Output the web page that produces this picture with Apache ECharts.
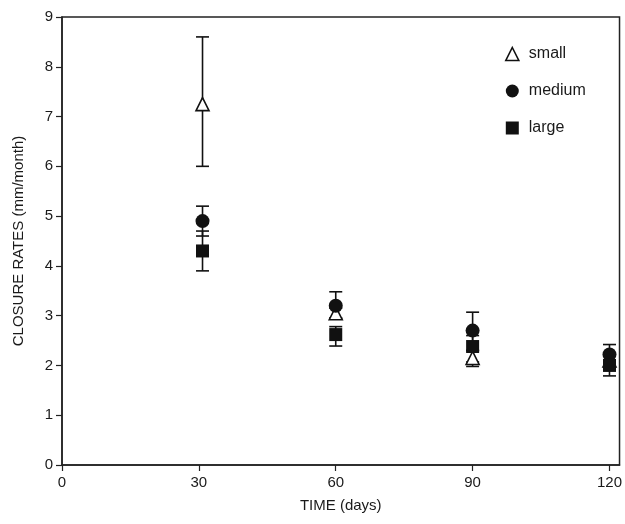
<!DOCTYPE html>
<html><head><meta charset="utf-8">
<script src="https://cdn.jsdelivr.net/npm/echarts@6/dist/echarts.min.js"></script>
<style>html,body{margin:0;padding:0;background:#fff}#c{width:625px;height:524px}</style>
</head><body><div id="c"></div>
<script>
const days = [30.8, 60, 90, 120];
const xTicks = [0, 30, 60, 90, 120];
const smallMean = [7.25, 3.05, 2.15, 2.1];
const smallLow  = [6.0, 2.95, 1.98, 2.0];
const smallHigh = [8.6, 3.15, 2.3, 2.2];
const mediumMean = [4.9, 3.2, 2.7, 2.22];
const mediumLow  = [4.6, 2.95, 2.3, 2.05];
const mediumHigh = [5.2, 3.48, 3.07, 2.42];
const largeMean = [4.3, 2.62, 2.38, 2.0];
const largeLow  = [3.9, 2.39, 2.07, 1.79];
const largeHigh = [4.7, 2.78, 2.6, 2.2];

function errData(mean, low, high){ return days.map((d,i)=>[d, low[i], high[i]]); }
function ptData(mean){ return days.map((d,i)=>[d, mean[i]]); }

function errSeries(mean, low, high){
  return {
    type: 'custom', silent: true, z: 1,
    data: errData(mean, low, high),
    renderItem: function(params, api){
      const x = api.value(0);
      const lo = api.coord([x, api.value(1)]);
      const hi = api.coord([x, api.value(2)]);
      const w = 6.5;
      const st = {stroke:'#111', lineWidth:1.6};
      return {type:'group', children:[
        {type:'line', shape:{x1:lo[0],y1:lo[1],x2:hi[0],y2:hi[1]}, style:st},
        {type:'line', shape:{x1:lo[0]-w,y1:lo[1],x2:lo[0]+w,y2:lo[1]}, style:st},
        {type:'line', shape:{x1:hi[0]-w,y1:hi[1],x2:hi[0]+w,y2:hi[1]}, style:st}
      ]};
    }
  };
}

const font = 'Liberation Sans, Arial, Helvetica, sans-serif';
const chart = echarts.init(document.getElementById('c'), null, {renderer:'canvas'});
chart.setOption({
  animation: false,
  backgroundColor: '#fff',
  grid: {left: 62, right: 3, top: 17, bottom: 59, show: true, borderColor: '#222', borderWidth: 1.5},
  legend: {
    orient: 'vertical', left: 500, top: 41, itemWidth: 13, itemHeight: 13, itemGap: 21,
    textStyle: {fontFamily: font, fontSize: 16, color: '#1a1a1a', padding:[0,0,0,5]},
    data: [
      {name:'small', icon:'triangle', itemStyle:{color:'#fff', borderColor:'#111', borderWidth:1.6, opacity:1}},
      {name:'medium', icon:'circle', itemStyle:{color:'#111', opacity:1}},
      {name:'large', icon:'rect', itemStyle:{color:'#111', opacity:1}}
    ]
  },
  xAxis: {
    type: 'value', min: 0, max: 122.2, interval: 30,
    name: 'TIME (days)', nameLocation: 'middle', nameGap: 33,
    nameTextStyle: {fontFamily: font, fontSize: 15, color: '#1a1a1a'},
    axisLine: {lineStyle: {color: '#222', width: 1.5}},
    axisTick: {show: true, length: 6, lineStyle:{color:'#222', width:1.2}, customValues: xTicks},
    axisLabel: {fontFamily: font, fontSize: 15, color: '#1a1a1a', margin: 10, customValues: xTicks},
    splitLine: {show: false}
  },
  yAxis: {
    type: 'value', min: 0, max: 9, interval: 1,
    name: 'CLOSURE RATES (mm/month)', nameLocation: 'middle', nameGap: 36,
    nameTextStyle: {fontFamily: font, fontSize: 15, color: '#1a1a1a'},
    axisLine: {show: true, lineStyle: {color: '#222', width: 1.5}},
    axisTick: {show: true, length: 6, lineStyle:{color:'#222', width:1.2}},
    axisLabel: {fontFamily: font, fontSize: 15, color: '#1a1a1a', margin: 9},
    splitLine: {show: false}
  },
  series: [
    errSeries(smallMean, smallLow, smallHigh),
    errSeries(mediumMean, mediumLow, mediumHigh),
    errSeries(largeMean, largeLow, largeHigh),
    {name:'small', type:'scatter', z:3, symbol:'triangle', symbolSize:13, data: ptData(smallMean),
     itemStyle:{color:'#fff', borderColor:'#111', borderWidth:1.6, opacity:1}},
    {name:'medium', type:'scatter', z:4, symbol:'circle', symbolSize:14, data: ptData(mediumMean),
     itemStyle:{color:'#111', opacity:1}},
    {name:'large', type:'scatter', z:5, symbol:'rect', symbolSize:13, data: ptData(largeMean),
     itemStyle:{color:'#111', opacity:1}}
  ]
});
</script></body></html>
